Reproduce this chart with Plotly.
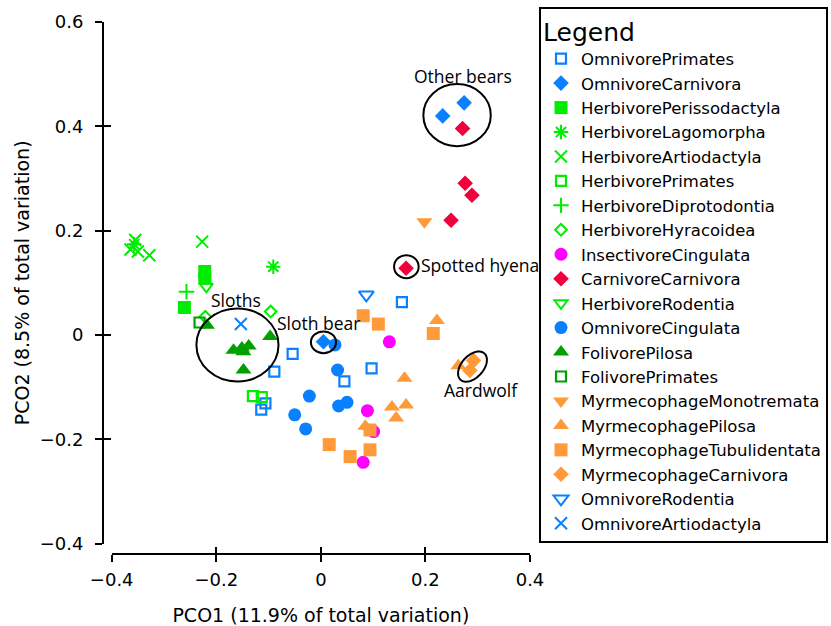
import math
import plotly.graph_objects as go

# ---------------- data ----------------
omnivore_primates_x = [-0.054, -0.089, 0.045, 0.097, 0.155, -0.106, -0.114]
omnivore_primates_y = [-0.036, -0.070, -0.089, -0.064, 0.063, -0.131, -0.143]
omnivore_carnivora_x = [0.005, 0.233, 0.274]
omnivore_carnivora_y = [-0.013, 0.420, 0.445]
herbivore_perissodactyla_x = [-0.222, -0.222, -0.261]
herbivore_perissodactyla_y = [0.122, 0.109, 0.053]
herbivore_lagomorpha_x = [-0.091, -0.357]
herbivore_lagomorpha_y = [0.131, 0.174]
herbivore_artiodactyla_x = [-0.355, -0.364, -0.350, -0.328, -0.227]
herbivore_artiodactyla_y = [0.182, 0.164, 0.160, 0.153, 0.179]
herbivore_primates_x = [-0.130, -0.113]
herbivore_primates_y = [-0.117, -0.119]
herbivore_diprotodontia_x = [-0.257]
herbivore_diprotodontia_y = [0.083]
herbivore_hyracoidea_x = [-0.096, -0.221]
herbivore_hyracoidea_y = [0.045, 0.035]
insectivore_cingulata_x = [0.131, 0.089, 0.101, 0.081]
insectivore_cingulata_y = [-0.013, -0.145, -0.185, -0.244]
carnivore_carnivora_x = [0.271, 0.276, 0.289, 0.249, 0.163]
carnivore_carnivora_y = [0.396, 0.291, 0.268, 0.220, 0.128]
herbivore_rodentia_x = [-0.219]
herbivore_rodentia_y = [0.093]
omnivore_cingulata_x = [0.027, 0.032, -0.022, 0.050, 0.034, -0.050, -0.029]
omnivore_cingulata_y = [-0.019, -0.067, -0.117, -0.129, -0.136, -0.153, -0.180]
folivore_pilosa_x = [-0.218, -0.097, -0.167, -0.151, -0.138, -0.148, -0.148]
folivore_pilosa_y = [0.019, -0.003, -0.029, -0.025, -0.021, -0.032, -0.067]
folivore_primates_x = [-0.232]
folivore_primates_y = [0.024]
myrmecophage_monotremata_x = [0.198]
myrmecophage_monotremata_y = [0.217]
myrmecophage_pilosa_x = [0.222, 0.160, 0.136, 0.163, 0.144, 0.085, 0.263]
myrmecophage_pilosa_y = [0.028, -0.083, -0.138, -0.134, -0.159, -0.175, -0.059]
myrmecophage_tubulidentata_x = [0.081, 0.110, 0.215, 0.016, 0.056, 0.094, 0.094]
myrmecophage_tubulidentata_y = [0.037, 0.021, 0.003, -0.210, -0.233, -0.220, -0.182]
myrmecophage_carnivora_x = [0.292, 0.285]
myrmecophage_carnivora_y = [-0.049, -0.068]
omnivore_rodentia_x = [0.087]
omnivore_rodentia_y = [0.077]
omnivore_artiodactyla_x = [-0.153]
omnivore_artiodactyla_y = [0.021]

x_tick_vals = [-0.4, -0.2, 0, 0.2, 0.4]
x_tick_text = ["\u22120.4", "\u22120.2", "0", "0.2", "0.4"]
y_tick_vals = [-0.4, -0.2, 0, 0.2, 0.4, 0.6]
y_tick_text = ["\u22120.4", "\u22120.2", "0", "0.2", "0.4", "0.6"]

# group labels (ellipses drawn around named groups)
ellipse_names = ["Other bears", "Sloths", "Sloth bear", "Spotted hyena"]
ellipse_x0 = [0.196, -0.238, -0.019, 0.140]
ellipse_x1 = [0.325, -0.081, 0.029, 0.187]
ellipse_y0 = [0.362, -0.089, -0.035, 0.109]
ellipse_y1 = [0.481, 0.051, 0.007, 0.153]

label_text = ["Other bears", "Sloths", "Sloth bear", "Spotted hyena", "Aardwolf"]
label_x = [0.272, -0.162, -0.005, 0.188, 0.306]
label_y = [0.496, 0.067, 0.023, 0.134, -0.105]
label_anchor = ["center", "center", "center", "left", "center"]

# tilted ellipse around the aardwolf
aardwolf_center = (0.290, -0.0605)
aardwolf_axes = (0.034, 0.021)
aardwolf_angle_deg = 48

# ---------------- styles ----------------
BLUE = "#0a80ff"
GREEN = "#00ec00"
DKGREEN = "#00a000"
MAGENTA = "#ff00ff"
RED = "#f0003c"
ORANGE = "#ff9a3a"

series = [
    ("OmnivorePrimates", omnivore_primates_x, omnivore_primates_y, "square-open", BLUE, 10, 2.2),
    ("OmnivoreCarnivora", omnivore_carnivora_x, omnivore_carnivora_y, "diamond", BLUE, 12, 0),
    ("HerbivorePerissodactyla", herbivore_perissodactyla_x, herbivore_perissodactyla_y, "square", GREEN, 13, 0),
    ("HerbivoreLagomorpha", herbivore_lagomorpha_x, herbivore_lagomorpha_y, "asterisk-open", GREEN, 12, 2),
    ("HerbivoreArtiodactyla", herbivore_artiodactyla_x, herbivore_artiodactyla_y, "x-thin-open", GREEN, 12, 2),
    ("HerbivorePrimates", herbivore_primates_x, herbivore_primates_y, "square-open", GREEN, 10, 2.2),
    ("HerbivoreDiprotodontia", herbivore_diprotodontia_x, herbivore_diprotodontia_y, "cross-thin-open", GREEN, 11, 2),
    ("HerbivoreHyracoidea", herbivore_hyracoidea_x, herbivore_hyracoidea_y, "diamond-open", GREEN, 9, 2),
    ("InsectivoreCingulata", insectivore_cingulata_x, insectivore_cingulata_y, "circle", MAGENTA, 13, 0),
    ("CarnivoreCarnivora", carnivore_carnivora_x, carnivore_carnivora_y, "diamond", RED, 12, 0),
    ("HerbivoreRodentia", herbivore_rodentia_x, herbivore_rodentia_y, "triangle-down-open", GREEN, 11.5, 2),
    ("OmnivoreCingulata", omnivore_cingulata_x, omnivore_cingulata_y, "circle", BLUE, 13, 0),
    ("FolivorePilosa", folivore_pilosa_x, folivore_pilosa_y, "triangle-up", DKGREEN, 14, 0),
    ("FolivorePrimates", folivore_primates_x, folivore_primates_y, "square-open", DKGREEN, 10, 2.2),
    ("MyrmecophageMonotremata", myrmecophage_monotremata_x, myrmecophage_monotremata_y, "triangle-down", ORANGE, 14, 0),
    ("MyrmecophagePilosa", myrmecophage_pilosa_x, myrmecophage_pilosa_y, "triangle-up", ORANGE, 14, 0),
    ("MyrmecophageTubulidentata", myrmecophage_tubulidentata_x, myrmecophage_tubulidentata_y, "square", ORANGE, 13, 0),
    ("MyrmecophageCarnivora", myrmecophage_carnivora_x, myrmecophage_carnivora_y, "diamond", ORANGE, 12, 0),
    ("OmnivoreRodentia", omnivore_rodentia_x, omnivore_rodentia_y, "triangle-down-open", BLUE, 13, 2),
    ("OmnivoreArtiodactyla", omnivore_artiodactyla_x, omnivore_artiodactyla_y, "x-thin-open", BLUE, 12, 2),
]

fig = go.Figure()
for name, xs, ys, sym, col, size, lw in series:
    marker = dict(symbol=sym, color=col, size=size)
    marker["line"] = dict(color=col, width=lw)
    fig.add_trace(go.Scatter(x=xs, y=ys, mode="markers", name=name, marker=marker,
                             legendgroup=name))

# invisible trace to activate the overlay axes (inner half of crossing ticks)
fig.add_trace(go.Scatter(x=[None], y=[None], xaxis="x2", yaxis="y2",
                         showlegend=False, hoverinfo="skip"))

# ---------------- shapes & labels ----------------
shapes = []
for i in range(len(ellipse_names)):
    shapes.append(dict(type="circle", xref="x", yref="y",
                       x0=ellipse_x0[i], x1=ellipse_x1[i], y0=ellipse_y0[i], y1=ellipse_y1[i],
                       line=dict(color="black", width=2)))
cx, cy = aardwolf_center
a, b = aardwolf_axes
th = math.radians(aardwolf_angle_deg)
pts = []
for k in range(73):
    t = 2 * math.pi * k / 72
    px = cx + a * math.cos(t) * math.cos(th) - b * math.sin(t) * math.sin(th)
    py = cy + a * math.cos(t) * math.sin(th) + b * math.sin(t) * math.cos(th)
    pts.append(f"{px:.5f},{py:.5f}")
shapes.append(dict(type="path", xref="x", yref="y",
                   path="M" + " L".join(pts) + " Z",
                   line=dict(color="black", width=2)))

annotations = []
for t, x, y, anc in zip(label_text, label_x, label_y, label_anchor):
    annotations.append(dict(text=t, x=x, y=y, xref="x", yref="y", xanchor=anc,
                            yanchor="middle", showarrow=False,
                            font=dict(family="Open Sans", size=17.5, color="black")))

AX_FONT = dict(family="DejaVu Sans", size=18, color="black")
common_ax = dict(showgrid=False, zeroline=False, tickcolor="black", tickwidth=1.5, ticklen=7)

fig.update_layout(
    width=831, height=626,
    margin=dict(l=103, r=301, t=21.7, b=71.7, pad=0, autoexpand=False),
    paper_bgcolor="white", plot_bgcolor="white",
    shapes=shapes, annotations=annotations,
    xaxis=dict(domain=[0.0204, 1], range=[-0.4, 0.4], anchor="free", position=0,
               showline=True, linecolor="black", linewidth=2, ticks="outside",
               tickvals=x_tick_vals, ticktext=x_tick_text, tickfont=AX_FONT,
               ticklabelstandoff=2,
               title=dict(text="PCO1 (11.9% of total variation)",
                          font=dict(family="DejaVu Sans", size=19, color="black"),
                          standoff=19),
               **common_ax),
    yaxis=dict(domain=[0.0193, 1], range=[-0.4, 0.6], anchor="free", position=0,
               showline=True, linecolor="black", linewidth=2, ticks="outside",
               tickvals=y_tick_vals, ticktext=y_tick_text, tickfont=AX_FONT,
               ticklabelstandoff=8,
               title=dict(text="PCO2 (8.5% of total variation)",
                          font=dict(family="DejaVu Sans", size=19, color="black"),
                          standoff=4),
               **common_ax),
    xaxis2=dict(overlaying="x", anchor="free", position=0, range=[-0.4, 0.4],
                ticks="inside", tickvals=x_tick_vals, showticklabels=False,
                showline=False, **common_ax),
    yaxis2=dict(overlaying="y", anchor="free", position=0, range=[-0.4, 0.6],
                ticks="inside", tickvals=y_tick_vals, showticklabels=False,
                showline=False, **common_ax),
    legend=dict(x=1.0211, y=1.0283, xanchor="left", yanchor="top",
                bgcolor="white", bordercolor="black", borderwidth=2,
                maxheight=620,
                font=dict(family="DejaVu Sans", size=16.5, color="black"),
                title=dict(text="Legend", font=dict(family="DejaVu Sans", size=25, color="black")),
                tracegroupgap=0),
    showlegend=True,
)

fig.write_html("out.html", config={"displayModeBar": False},
               post_script="document.body.style.margin='0px';")
